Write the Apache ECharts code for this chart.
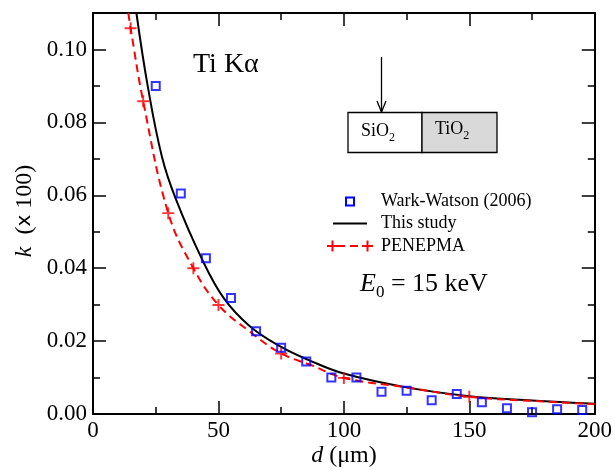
<!DOCTYPE html>
<html>
<head>
<meta charset="utf-8">
<script src="https://cdn.jsdelivr.net/npm/echarts@6/dist/echarts.min.js"></script>
<style>html,body{margin:0;padding:0;background:#fff}#c{width:615px;height:470px}</style>
</head>
<body>
<div id="c"></div>
<script>
// Wark-Watson (2006) measurements
const wwD = [25,35,45,55,65,75,85,95,105,115,125,135,145,155,165,175,185,195];
const wwK = [0.0900,0.0605,0.0427,0.0318,0.0227,0.0182,0.0144,0.0100,0.0100,0.0061,0.0064,0.0038,0.0055,0.0032,0.0016,0.0005,0.0013,0.0011];
// This study curve
const studyD = [17.3,21.8,27.5,33,43.3,52.2,62.5,75,86,100,125,150,175,200];
const studyK = [0.110,0.090,0.0705,0.0590,0.0427,0.0317,0.0241,0.0184,0.0148,0.0111,0.0073,0.0049,0.0037,0.0028];
// PENEPMA curve
const penLineD = [14.1,15,20,30,40,50,62.5,75,87,100,125,150,175,200];
const penLineK = [0.110,0.1058,0.0858,0.0551,0.0400,0.0299,0.0226,0.0166,0.0134,0.0099,0.0073,0.0047,0.0036,0.0027];
// PENEPMA simulated points
const penD = [15,20,30,40,50,75,100,150];
const penK = [0.1058,0.0858,0.0551,0.0400,0.0299,0.0166,0.0099,0.0047];
// axes
const xTicks = [0,50,100,150,200];
const yTicks = ['0.00','0.02','0.04','0.06','0.08','0.10'];

const FONT = 'Liberation Serif';
const zip = (a,b) => a.map((v,i)=>[v,b[i]]);
const PLUS = 'path://M0,4.2H10V5.8H0Z M4.2,0H5.8V10H4.2Z';

function yAx(pos, interval, len, labels, line) {
  return {
    type:'value', position:pos, offset:0, min:0, max:0.11, interval:interval,
    axisLine:{show:line, onZero:false, lineStyle:{color:'#000', width:2}},
    axisTick:{show:true, inside:true, length:len, lineStyle:{color:'#000', width:1.5}},
    axisLabel:{show:labels, fontFamily:FONT, fontSize:23, color:'#000', margin:6,
      formatter:v=>{const s=v.toFixed(2); return yTicks.indexOf(s)>=0?s:'';}},
    splitLine:{show:false}
  };
}
function xAx(pos, labels) {
  return {
    type:'value', position:pos, offset:0, min:0, max:200, interval:50,
    axisLine:{show:true, onZero:false, lineStyle:{color:'#000', width:2}},
    axisTick:{show:true, inside:true, length:13, lineStyle:{color:'#000', width:1.5}},
    minorTick:{show:true, splitNumber:2, length:7, lineStyle:{color:'#000', width:1.5}},
    axisLabel:{show:labels, fontFamily:FONT, fontSize:23, color:'#000', margin:5,
      formatter:v=>xTicks.indexOf(v)>=0?String(v):''},
    splitLine:{show:false}, minorSplitLine:{show:false}
  };
}

const chart = echarts.init(document.getElementById('c'), null, {renderer:'canvas'});
const ly1 = 201.5, ly2 = 223.5, ly3 = 246;
chart.setOption({
  animation:false,
  backgroundColor:'#fff',
  grid:{left:93, right:18, top:13, bottom:56},
  xAxis:[xAx('bottom', true), xAx('top', false)],
  yAxis:[yAx('left',0.02,13,true,true), yAx('left',0.01,7,false,false),
         yAx('right',0.02,13,false,true), yAx('right',0.01,7,false,false)],
  series:[
    {name:'This study', type:'line', data:zip(studyD, studyK), smooth:0.4, symbol:'none',
     lineStyle:{color:'#000', width:2}, z:3},
    {name:'PENEPMA line', type:'line', data:zip(penLineD, penLineK), smooth:0.4, symbol:'none',
     lineStyle:{color:'#ff0000', width:2, type:[8,5]}, z:3},
    {name:'PENEPMA', type:'scatter', data:zip(penD, penK), symbol:PLUS, symbolSize:12,
     itemStyle:{color:'#ff0000'}, z:4},
    {name:'Wark-Watson (2006)', type:'scatter', data:zip(wwD, wwK), symbol:'rect', symbolSize:8,
     itemStyle:{color:'rgba(0,0,0,0)', borderColor:'#0000ff', borderWidth:2}, z:5}
  ],
  graphic:[
    {type:'text', left:193, top:51, style:{text:'Ti K\u03b1', font:'28px "Liberation Serif"', fill:'#000'}},
    // schematic
    {type:'line', shape:{x1:381.5, y1:57, x2:381.5, y2:112}, style:{stroke:'#000', lineWidth:1.3}},
    {type:'polyline', shape:{points:[[377,101],[381.5,112],[386,101]]}, style:{stroke:'#000', lineWidth:1.3, fill:null}},
    {type:'rect', shape:{x:348, y:112.5, width:74, height:40}, style:{fill:'#fff', stroke:'#000', lineWidth:1.3}},
    {type:'rect', shape:{x:422, y:112.5, width:75, height:40}, style:{fill:'#d9d9d9', stroke:'#000', lineWidth:1.3}},
    {type:'text', x:361, y:131, style:{text:'{a|SiO}{b|2}', verticalAlign:'middle',
      rich:{a:{fontFamily:FONT, fontSize:18, lineHeight:26, verticalAlign:'middle', fill:'#000'},
            b:{fontFamily:FONT, fontSize:12, lineHeight:12, verticalAlign:'bottom', fill:'#000'}}}},
    {type:'text', x:435, y:129, style:{text:'{a|TiO}{b|2}', verticalAlign:'middle',
      rich:{a:{fontFamily:FONT, fontSize:18, lineHeight:26, verticalAlign:'middle', fill:'#000'},
            b:{fontFamily:FONT, fontSize:12, lineHeight:12, verticalAlign:'bottom', fill:'#000'}}}},
    // legend
    {type:'rect', shape:{x:346, y:ly1-4, width:8, height:8}, style:{fill:null, stroke:'#0000ff', lineWidth:2}},
    {type:'text', x:381, y:ly1, style:{text:'Wark-Watson (2006)', font:'18px "Liberation Serif"', fill:'#000', verticalAlign:'middle'}},
    {type:'line', shape:{x1:333, y1:ly2, x2:367, y2:ly2}, style:{stroke:'#000', lineWidth:2}},
    {type:'text', x:381, y:ly2, style:{text:'This study', font:'18px "Liberation Serif"', fill:'#000', verticalAlign:'middle'}},
    {type:'line', shape:{x1:337, y1:ly3, x2:363, y2:ly3}, style:{stroke:'#ff0000', lineWidth:2, lineDash:[8,5]}},
    {type:'rect', shape:{x:327, y:ly3-1, width:11, height:2}, style:{fill:'#ff0000'}},
    {type:'rect', shape:{x:331.5, y:ly3-5.5, width:2, height:11}, style:{fill:'#ff0000'}},
    {type:'rect', shape:{x:362, y:ly3-1, width:11, height:2}, style:{fill:'#ff0000'}},
    {type:'rect', shape:{x:366.5, y:ly3-5.5, width:2, height:11}, style:{fill:'#ff0000'}},
    {type:'text', x:381, y:ly3, style:{text:'PENEPMA', font:'18px "Liberation Serif"', fill:'#000', verticalAlign:'middle'}},
    // energy
    {type:'text', x:360, y:284, style:{text:'{e|E}{s|0}{t| = 15 keV}', verticalAlign:'middle',
      rich:{e:{fontFamily:FONT, fontStyle:'italic', fontSize:26, lineHeight:34, verticalAlign:'middle', fill:'#000'},
            s:{fontFamily:FONT, fontSize:17, lineHeight:17, verticalAlign:'bottom', fill:'#000'},
            t:{fontFamily:FONT, fontSize:26, lineHeight:34, verticalAlign:'middle', fill:'#000'}}}},
    // axis names
    {type:'text', x:25, y:211, rotation:Math.PI/2, style:{text:'{i|k}{n|  (}{x|x}{n| 100)}', align:'center', verticalAlign:'middle',
      rich:{i:{fontFamily:FONT, fontStyle:'italic', fontSize:24, fill:'#000'},
            n:{fontFamily:FONT, fontSize:24, fill:'#000'},
            x:{fontFamily:'DejaVu Sans', fontSize:20, fill:'#000'}}}},
    {type:'text', x:344, y:456, style:{text:'{i|d}{n| (\u03bcm)}', align:'center', verticalAlign:'middle',
      rich:{i:{fontFamily:FONT, fontStyle:'italic', fontSize:24, fill:'#000'},
            n:{fontFamily:FONT, fontSize:24, fill:'#000'}}}}
  ]
});
</script>
</body>
</html>
